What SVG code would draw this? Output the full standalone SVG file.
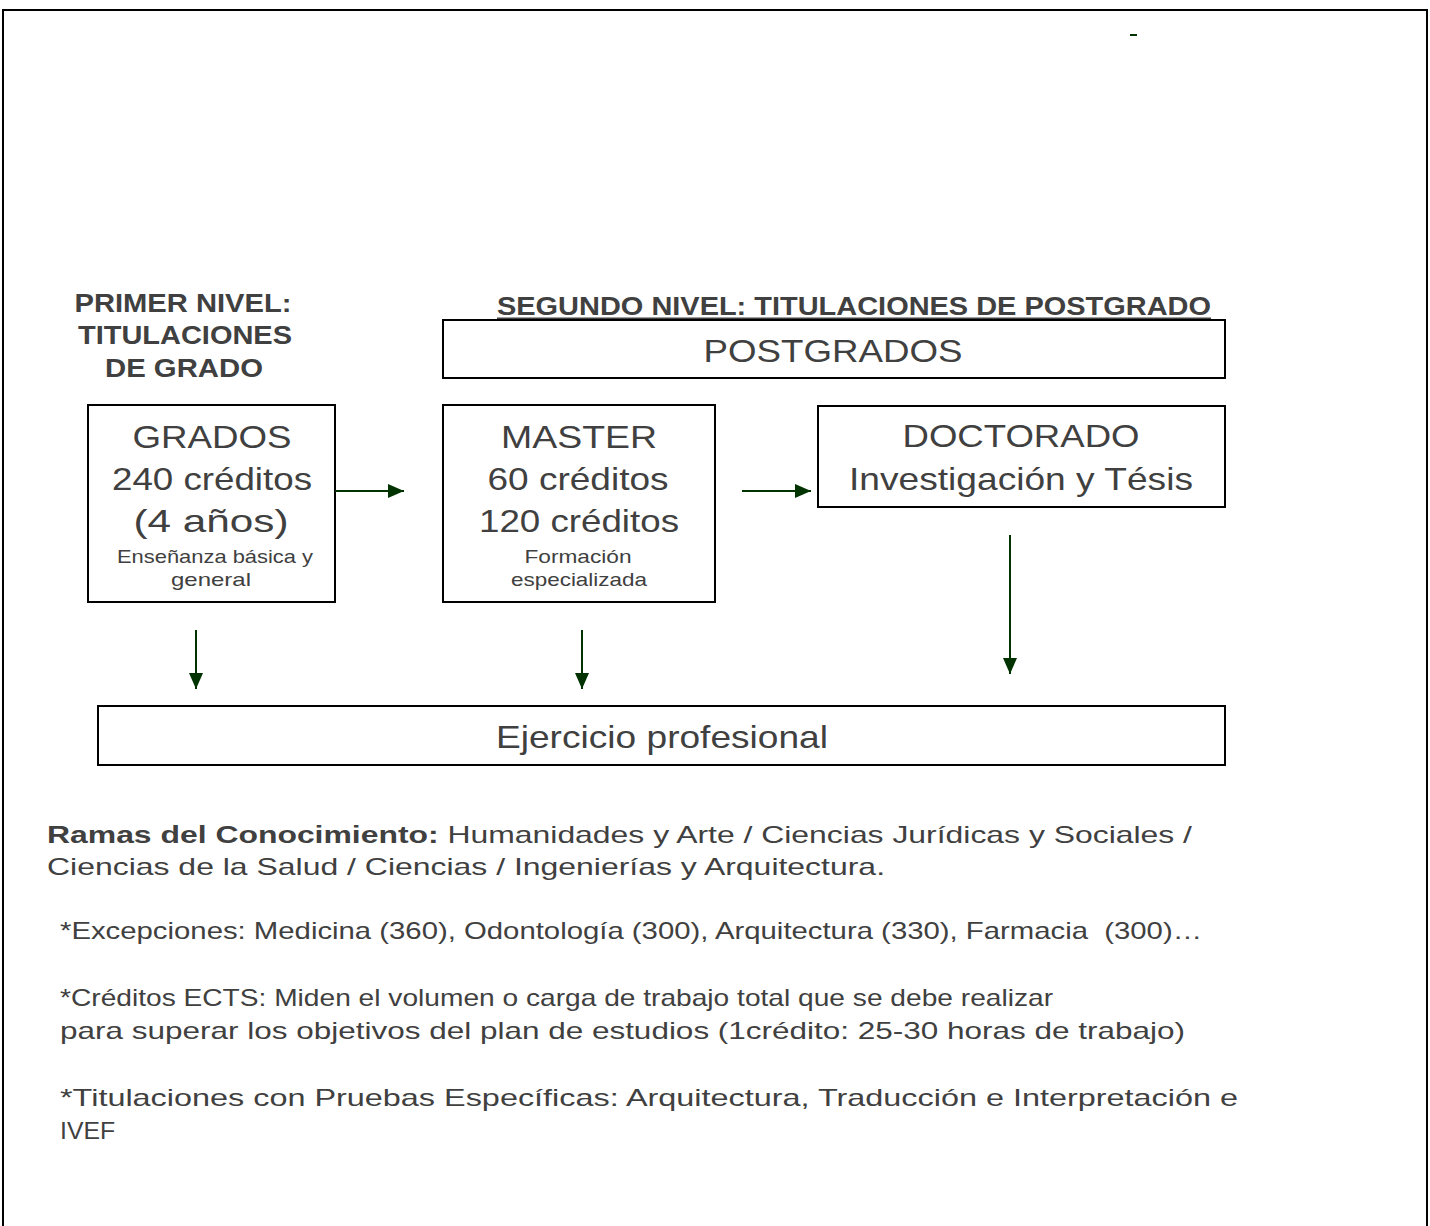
<svg xmlns="http://www.w3.org/2000/svg" width="1430" height="1226" viewBox="0 0 1430 1226">
  <style>
    .t { font-family: "Liberation Sans", Arial, sans-serif; fill: #404040; }
    .c { text-anchor: middle; }
    .big { font-size: 32px; }
    .small { font-size: 18.5px; }
    .head { font-size: 25.5px; font-weight: bold; }
    .body { font-size: 24px; }
    .box { fill: #ffffff; stroke: #000000; stroke-width: 2; }
    .conn { stroke: #003300; stroke-width: 2; fill: none; }
  </style>
  <defs>
    <marker id="ah" viewBox="0 0 16 16" refX="16" refY="8" markerWidth="16" markerHeight="16" markerUnits="userSpaceOnUse" orient="auto">
      <path d="M0,1 L16,8 L0,15 Z" fill="#003300"/>
    </marker>
  </defs>
  <rect width="1430" height="1226" fill="#ffffff"/>
  <path d="M3,1230 L3,10 L1427,10 L1427,1230" fill="none" stroke="#000000" stroke-width="2"/>
  <rect x="1130" y="34" width="7" height="2" fill="#003300"/>

  <g id="heading-primer">
    <text class="t c head" x="183" y="312" textLength="217" lengthAdjust="spacingAndGlyphs">PRIMER NIVEL:</text>
    <text class="t c head" x="185" y="344" textLength="214" lengthAdjust="spacingAndGlyphs">TITULACIONES</text>
    <text class="t c head" x="184" y="377" textLength="158" lengthAdjust="spacingAndGlyphs">DE GRADO</text>
  </g>

  <g id="heading-segundo">
    <text class="t c head" x="854" y="315" textLength="714" lengthAdjust="spacingAndGlyphs">SEGUNDO NIVEL: TITULACIONES DE POSTGRADO</text>
    <line x1="497" y1="318.5" x2="1211" y2="318.5" stroke="#404040" stroke-width="2"/>
  </g>

  <g id="postgrados">
    <rect class="box" x="443" y="320" width="782" height="58"/>
    <text class="t c big" x="833" y="362" textLength="259" lengthAdjust="spacingAndGlyphs">POSTGRADOS</text>
  </g>

  <g id="grados">
    <rect class="box" x="88" y="405" width="247" height="197"/>
    <text class="t c big" x="212" y="448" textLength="159" lengthAdjust="spacingAndGlyphs">GRADOS</text>
    <text class="t c big" x="212" y="490" textLength="200" lengthAdjust="spacingAndGlyphs">240 créditos</text>
    <text class="t c big" x="211" y="532" textLength="155" lengthAdjust="spacingAndGlyphs">(4 años)</text>
    <text class="t c small" x="215" y="563" textLength="196" lengthAdjust="spacingAndGlyphs">Enseñanza básica y</text>
    <text class="t c small" x="211" y="586" textLength="80" lengthAdjust="spacingAndGlyphs">general</text>
  </g>

  <g id="master">
    <rect class="box" x="443" y="405" width="272" height="197"/>
    <text class="t c big" x="579" y="448" textLength="156" lengthAdjust="spacingAndGlyphs">MASTER</text>
    <text class="t c big" x="578" y="490" textLength="181" lengthAdjust="spacingAndGlyphs">60 créditos</text>
    <text class="t c big" x="579" y="532" textLength="200" lengthAdjust="spacingAndGlyphs">120 créditos</text>
    <text class="t c small" x="578" y="563" textLength="107" lengthAdjust="spacingAndGlyphs">Formación</text>
    <text class="t c small" x="579" y="586" textLength="136" lengthAdjust="spacingAndGlyphs">especializada</text>
  </g>

  <g id="doctorado">
    <rect class="box" x="818" y="406" width="407" height="101"/>
    <text class="t c big" x="1021" y="447" textLength="237" lengthAdjust="spacingAndGlyphs">DOCTORADO</text>
    <text class="t c big" x="1021" y="490" textLength="344" lengthAdjust="spacingAndGlyphs">Investigación y Tésis</text>
  </g>

  <g id="ejercicio">
    <rect class="box" x="98" y="706" width="1127" height="59"/>
    <text class="t c big" x="662" y="748" textLength="332" lengthAdjust="spacingAndGlyphs">Ejercicio profesional</text>
  </g>

  <g id="connectors">
    <line class="conn" x1="335" y1="491" x2="404" y2="491" marker-end="url(#ah)"/>
    <line class="conn" x1="742" y1="491" x2="811" y2="491" marker-end="url(#ah)"/>
    <line class="conn" x1="196" y1="630" x2="196" y2="689" marker-end="url(#ah)"/>
    <line class="conn" x1="582" y1="630" x2="582" y2="689" marker-end="url(#ah)"/>
    <line class="conn" x1="1010" y1="535" x2="1010" y2="674" marker-end="url(#ah)"/>
  </g>

  <g id="notes">
    <text class="t body" x="47" y="843" textLength="1145" lengthAdjust="spacingAndGlyphs"><tspan font-weight="bold">Ramas del Conocimiento:</tspan> Humanidades y Arte / Ciencias Jurídicas y Sociales /</text>
    <text class="t body" x="47" y="875" textLength="838" lengthAdjust="spacingAndGlyphs">Ciencias de la Salud / Ciencias / Ingenierías y Arquitectura.</text>
    <text class="t body" x="60" y="939" textLength="1142" lengthAdjust="spacingAndGlyphs">*Excepciones: Medicina (360), Odontología (300), Arquitectura (330), Farmacia&#160; (300)…</text>
    <text class="t body" x="60" y="1006" textLength="993" lengthAdjust="spacingAndGlyphs">*Créditos ECTS: Miden el volumen o carga de trabajo total que se debe realizar</text>
    <text class="t body" x="60" y="1039" textLength="1125" lengthAdjust="spacingAndGlyphs">para superar los objetivos del plan de estudios (1crédito: 25-30 horas de trabajo)</text>
    <text class="t body" x="60" y="1106" textLength="1178" lengthAdjust="spacingAndGlyphs">*Titulaciones con Pruebas Específicas: Arquitectura, Traducción e Interpretación e</text>
    <text class="t body" x="60" y="1139" textLength="55" lengthAdjust="spacingAndGlyphs">IVEF</text>
  </g>
</svg>
